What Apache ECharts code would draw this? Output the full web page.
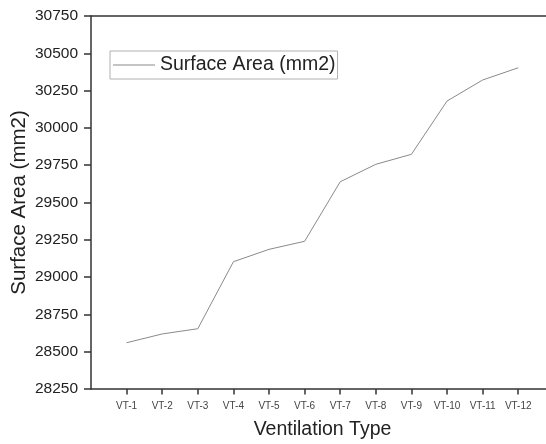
<!DOCTYPE html>
<html>
<head>
<meta charset="utf-8">
<script src="https://cdn.jsdelivr.net/npm/echarts@6/dist/echarts.min.js"></script>
<style>html,body{margin:0;padding:0;background:#fff;}#c{width:546px;height:444px;}</style>
</head>
<body>
<div id="c"></div>
<script>
var categories = ['VT-1','VT-2','VT-3','VT-4','VT-5','VT-6','VT-7','VT-8','VT-9','VT-10','VT-11','VT-12'];
var surfaceArea = [28560, 28619, 28654, 29103, 29186, 29240, 29639, 29756, 29823, 30180, 30321, 30403];
var seriesName = 'Surface Area (mm2)';
var xTitle = 'Ventilation Type';
var yTitle = 'Surface Area (mm2)';

var chart = echarts.init(document.getElementById('c'), null, {renderer: 'canvas'});
var pts = surfaceArea.map(function (v, i) { return [i + 1, v]; });
var font = 'Liberation Sans, Arial, sans-serif';
chart.setOption({
  animation: false,
  backgroundColor: '#fff',
  grid: {left: 91, right: 0, top: 16, bottom: 55, containLabel: false, outerBoundsMode: 'none'},
  legend: {
    show: true,
    left: 110, top: 51,
    padding: [4, 2, 4, 3],
    borderColor: '#b0b0b0', borderWidth: 1,
    itemWidth: 42, itemHeight: 1, itemGap: 5,
    textStyle: {fontFamily: font, fontSize: 19.5, color: '#222', padding: [0, 0, 0, 0]},
    data: [{name: seriesName, icon: 'rect'}]
  },
  xAxis: [{
    type: 'value',
    min: 0, max: 12.78, interval: 1,
    name: xTitle, nameLocation: 'middle', nameGap: 31,
    nameTextStyle: {fontFamily: font, fontSize: 19.5, color: '#222', padding: [0, 0, 0, 8]},
    axisLine: {show: true, lineStyle: {color: '#333', width: 1.5}},
    axisTick: {show: true, length: 5.5, lineStyle: {color: '#333', width: 1.5}},
    axisLabel: {
      fontFamily: font, fontSize: 10, color: '#444', margin: 12,
      showMaxLabel: false, showMinLabel: false,
      formatter: function (v) {
        if (Math.abs(v - Math.round(v)) > 1e-6) return '';
        var i = Math.round(v) - 1;
        return (i >= 0 && i < categories.length) ? categories[i] : '';
      }
    },
    splitLine: {show: false}
  }, {
    type: 'value', position: 'top', min: 0, max: 12.78,
    axisLine: {show: true, lineStyle: {color: '#333', width: 1.5}},
    axisTick: {show: false}, axisLabel: {show: false}, splitLine: {show: false}
  }],
  yAxis: {
    type: 'value',
    min: 28250, max: 30750, interval: 250,
    name: yTitle, nameLocation: 'middle', nameGap: 61, nameMoveOverlap: false,
    nameTextStyle: {fontFamily: font, fontSize: 20.5, color: '#222'},
    axisLine: {show: true, lineStyle: {color: '#333', width: 1.5}},
    axisTick: {show: true, length: 7, lineStyle: {color: '#333', width: 1.5}},
    axisLabel: {fontFamily: font, fontSize: 15.5, color: '#222', margin: 13,
      formatter: function (v) { return String(v); }},
    splitLine: {show: false}
  },
  series: [{
    name: seriesName,
    type: 'line',
    data: pts,
    symbol: 'none',
    lineStyle: {color: '#8a8a8a', width: 1},
    itemStyle: {color: '#8a8a8a'}
  }]
});
</script>
</body>
</html>
